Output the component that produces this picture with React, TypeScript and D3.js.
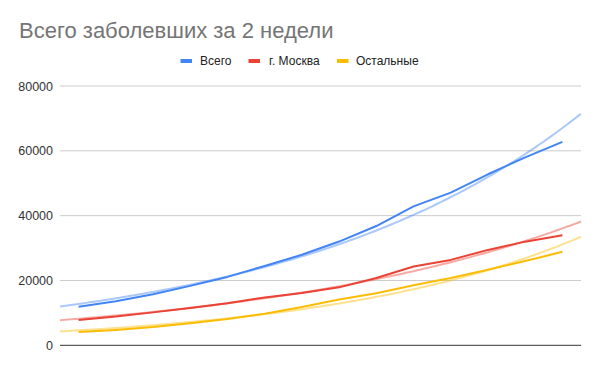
import React from "react";
import * as d3 from "d3";

const days = ["10.04", "11.04", "12.04", "13.04", "14.04", "15.04", "16.04", "17.04", "18.04", "19.04", "20.04", "21.04", "22.04", "23.04"];
const total = [11917, 13584, 15770, 18328, 21102, 24490, 27938, 32008, 36793, 42853, 47121, 52763, 57999, 62773];
const moscow = [7822, 8852, 10158, 11513, 13002, 14776, 16146, 17880, 20754, 24324, 26350, 29433, 31981, 33940];
const others = [4095, 4732, 5612, 6815, 8100, 9714, 11792, 14128, 16039, 18529, 20771, 23330, 26018, 28833];
const seriesNames = ["Всего", "г. Москва", "Остальные"];
const seriesColors = ["#4285F4", "#EA4335", "#FBBC04"];
const yTicks = [0, 20000, 40000, 60000, 80000];

const W = 600, H = 371;
const L = 60, R = 581, T = 86, B = 345.3;

// Exponential trendline y = a*exp(b*x): weighted log-linear least squares (weights = y)
function expFit(vals: number[]) {
  const xs = vals.map((_, i) => i + 1);
  const ls = vals.map((v) => Math.log(v));
  const ws = vals;
  const sw = d3.sum(ws);
  const mx = d3.sum(xs.map((v, i) => v * ws[i])) / sw;
  const my = d3.sum(ls.map((v, i) => v * ws[i])) / sw;
  let sxy = 0, sxx = 0;
  for (let i = 0; i < xs.length; i++) {
    sxy += ws[i] * (xs[i] - mx) * (ls[i] - my);
    sxx += ws[i] * (xs[i] - mx) ** 2;
  }
  const b = sxy / sxx;
  const a = my - b * mx;
  return (x: number) => Math.exp(a + b * x);
}

export default function App() {
  const x = d3.scaleLinear().domain([0.5, days.length + 0.5]).range([L, R]);
  const y = d3.scaleLinear().domain([0, 80000]).range([B, T]);
  const series = [total, moscow, others];
  const line = d3.line<number>().x((_, i) => x(i + 1)).y((v) => y(v));
  const samples = d3.range(0.5, days.length + 0.5001, 0.1);

  const legendItems = [
    { sx: 180.5, tx: 200 },
    { sx: 248.5, tx: 269 },
    { sx: 337, tx: 356 },
  ];
  const font = "Arial, 'Liberation Sans', sans-serif";

  return (
    <div style={{ position: "absolute", left: 0, top: 0 }}>
      <svg width={W} height={H} style={{ display: "block", background: "#fff" }}>
        <text x={19} y={38} fontFamily={font} fontSize={22} fill="#757575">Всего заболевших за 2 недели</text>
        {seriesNames.map((name, i) => (
          <g key={name}>
            <rect x={legendItems[i].sx} y={59} width={11.5} height={4} fill={seriesColors[i]} />
            <text x={legendItems[i].tx} y={65.3} fontFamily={font} fontSize={12} fill="#222">{name}</text>
          </g>
        ))}
        {yTicks.map((t) => (
          <g key={t}>
            <line x1={L} x2={R} y1={y(t)} y2={y(t)} stroke={t === 0 ? "#333" : "#ccc"} strokeWidth={1} />
            <text x={53} y={y(t) + 4.5} textAnchor="end" fontFamily={font} fontSize={12.5} fill="#333">{t}</text>
          </g>
        ))}
        {series.map((s, i) => {
          const f = expFit(s);
          const tl = d3.line<number>().x((t) => x(t)).y((t) => y(f(t)));
          return (
            <path key={"t" + i} d={tl(samples) || ""} fill="none" stroke={seriesColors[i]} strokeOpacity={0.45} strokeWidth={2} />
          );
        })}
        {series.map((s, i) => (
          <path key={"s" + i} d={line(s) || ""} fill="none" stroke={seriesColors[i]} strokeWidth={2} strokeLinejoin="round" />
        ))}
      </svg>
    </div>
  );
}
